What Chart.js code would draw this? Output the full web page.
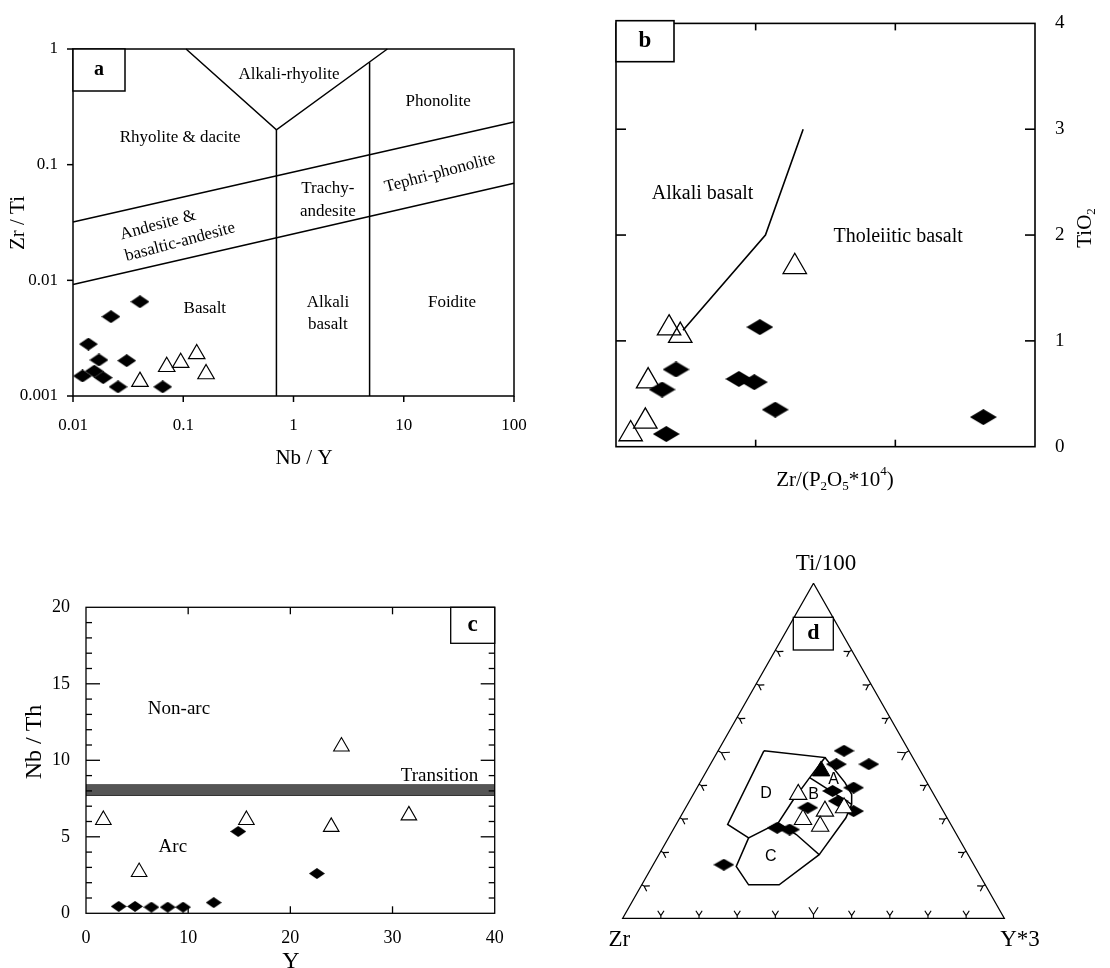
<!DOCTYPE html>
<html>
<head>
<meta charset="utf-8">
<title>Discrimination diagrams</title>
<script src="https://cdn.jsdelivr.net/npm/chart.js@4.4.1/dist/chart.umd.min.js"></script>
<style>
  html, body { margin: 0; padding: 0; background: #fff; }
  body { position: relative; width: 1110px; height: 968px; overflow: hidden; }
  canvas { position: absolute; }
</style>
</head>
<body>
<canvas id="chartA" width="560" height="480" style="left:0;top:0"></canvas>
<canvas id="chartB" width="530" height="510" style="left:580px;top:0"></canvas>
<canvas id="chartC" width="560" height="448" style="left:0;top:520px"></canvas>
<canvas id="chartD" width="530" height="438" style="left:580px;top:530px"></canvas>
<script>
// ---- panel a : Zr/Ti vs Nb/Y ----
const aNbYTicks = [0.01, 0.1, 1, 10, 100];
const aZrTiTicks = [0.001, 0.01, 0.1, 1];
const aDiamondNbY = [0.0122, 0.0138, 0.0172, 0.0156, 0.0188, 0.0221, 0.0307, 0.0405, 0.0256, 0.0651];
const aDiamondZrTi = [0.00149, 0.00281, 0.00205, 0.00164, 0.00144, 0.00485, 0.00202, 0.00653, 0.00120, 0.00120];
const aTriangleNbY = [0.0405, 0.0708, 0.0948, 0.1325, 0.161];
const aTriangleZrTi = [0.00133, 0.00179, 0.00194, 0.00231, 0.00155];
// field boundaries
const aVNbY = [0.106, 0.7, 7.1];
const aVZrTi = [1, 0.2, 1];
const aLeftWallNbY = [0.7, 0.7];
const aLeftWallZrTi = [0.2, 0.001];
const aRightWallNbY = [4.9, 4.9];
const aRightWallZrTi = [0.77, 0.001];
const aUpperNbY = [0.01, 100];
const aUpperZrTi = [0.032, 0.234];
const aLowerNbY = [0.01, 100];
const aLowerZrTi = [0.0092, 0.069];
const aFieldNames = ['Alkali-rhyolite', 'Phonolite', 'Rhyolite & dacite', 'Tephri-phonolite', 'Trachy-', 'andesite',
  'Andesite &', 'basaltic-andesite', 'Basalt', 'Alkali', 'basalt', 'Foidite'];
const aFieldNbY = [0.91, 20.5, 0.0936, 21.3, 2.05, 2.05, 0.059, 0.0936, 0.157, 2.05, 2.05, 27.4];
const aFieldZrTi = [0.596, 0.348, 0.173, 0.0848, 0.0628, 0.0397, 0.0301, 0.0214, 0.00565, 0.00637, 0.00411, 0.00637];
const aFieldTilt = [0, 0, 0, -15, 0, 0, -15, -15, 0, 0, 0, 0];

// ---- panel b : TiO2 vs Zr/(P2O5*10^4) ----
const bDiamondZrP = [1.03, 0.43, 0.33, 0.88, 0.99, 1.14, 0.36, 2.63];
const bDiamondTiO2 = [1.13, 0.73, 0.54, 0.64, 0.61, 0.35, 0.12, 0.28];
const bTriangleZrP = [1.28, 0.38, 0.46, 0.23, 0.21, 0.105];
const bTriangleTiO2 = [1.70, 1.12, 1.05, 0.62, 0.24, 0.12];
const bDivideZrP = [0.48, 1.07, 1.34];
const bDivideTiO2 = [1.1, 2, 3];
const bFieldNames = ['Alkali basalt', 'Tholeiitic basalt'];
const bFieldZrP = [0.62, 2.02];
const bFieldTiO2 = [2.39, 1.98];

// ---- panel c : Nb/Th vs Y ----
const cDiamondY = [3.2, 4.8, 6.4, 8.0, 9.5, 12.5, 14.9, 22.6];
const cDiamondNbTh = [0.45, 0.45, 0.4, 0.4, 0.4, 0.7, 5.35, 2.6];
const cTriangleY = [1.7, 5.2, 15.7, 24.0, 25.0, 31.6];
const cTriangleNbTh = [6.1, 2.7, 6.1, 5.65, 10.9, 6.4];
const cTransitionNbTh = [7.7, 8.4];
const cFieldNames = ['Non-arc', 'Transition', 'Arc'];
const cFieldY = [9.1, 34.6, 8.5];
const cFieldNbTh = [13.35, 8.97, 4.35];

// ---- panel d : Ti/100 - Zr - Y*3 ternary (percent) ----
const dDiamondTi = [50, 46, 46, 39, 38, 35, 33, 32, 27, 26.5, 16];
const dDiamondZr = [17, 21, 12.5, 20, 26, 26, 35, 23.5, 46, 43, 65.5];
const dDiamondY = [33, 33, 41.5, 41, 36, 39, 32, 44.5, 27, 30.5, 18.5];
const dSolidTriTi = [44];
const dSolidTriZr = [26];
const dSolidTriY = [30];
const dTriangleTi = [37, 32, 33, 29.5, 27.5];
const dTriangleZr = [35.5, 31, 25.5, 38, 34.5];
const dTriangleY = [27.5, 37, 41.5, 32.5, 38];
const dFrameTi = [100, 0, 0, 100];
const dFrameZr = [0, 100, 0, 0];
const dFrameY = [0, 0, 100, 0];
const dFieldDTi = [50, 48, 42, 35, 28.5, 24, 28, 50];
const dFieldDZr = [38, 23, 30, 38, 45, 55, 58.5, 38];
const dFieldDY = [12, 29, 28, 27, 26.5, 21, 13.5, 12];
const dFieldCTi = [24, 15.5, 10, 10, 19, 25, 28.5];
const dFieldCZr = [55, 62.5, 62, 54, 39, 42, 45];
const dFieldCY = [21, 22, 28, 36, 42, 33, 26.5];
const dOuterTi = [19, 30, 34, 37, 40.5, 48];
const dOuterZr = [39, 26.5, 23, 21.5, 21.5, 23];
const dOuterY = [42, 43.5, 43, 41.5, 38, 29];
const dSplitTi = [42, 34];
const dSplitZr = [30, 23];
const dSplitY = [28, 43];
const dFieldNames = ['A', 'B', 'C', 'D'];
const dFieldTi = [41.3, 36.8, 18.4, 37.3];
const dFieldZr = [24.1, 31.6, 52, 43.8];
const dFieldY = [34.6, 31.6, 29.6, 18.9];

const SERIF = "'Liberation Serif', 'Times New Roman', serif";
const SANS = "'Liberation Sans', Arial, sans-serif";

function pts(xs, ys) {
  return xs.map((x, i) => ({ x: x, y: ys[i] }));
}

// ternary percent -> cartesian (fraction of triangle width / height)
function tern(ti, zr, y) {
  return ti.map((t, i) => {
    const s = t + zr[i] + y[i];
    return { x: (y[i] + t / 2) / s, y: t / s };
  });
}

function diamondStyle(w, h) {
  const c = document.createElement('canvas');
  c.width = w;
  c.height = h;
  const g = c.getContext('2d');
  g.fillStyle = '#000';
  g.beginPath();
  g.moveTo(w / 2, 0);
  g.lineTo(w, h / 2);
  g.lineTo(w / 2, h);
  g.lineTo(0, h / 2);
  g.closePath();
  g.fill();
  return c;
}

function lineSet(data, width) {
  return { data: data, showLine: true, pointRadius: 0, borderColor: '#000', borderWidth: width || 1.5,
    fill: false, tension: 0, clip: false };
}

function fontFor(p, size) {
  const s = (p.sub || p.sup) ? Math.round(size * 0.62) : size;
  return (p.bold ? 'bold ' : '') + s + 'px ' + (p.sans ? SANS : SERIF);
}

function drawRich(ctx, parts, x, y, size, rot) {
  ctx.save();
  ctx.translate(x, y);
  ctx.rotate(rot * Math.PI / 180);
  ctx.textBaseline = 'middle';
  ctx.textAlign = 'left';
  const widths = parts.map(p => { ctx.font = fontFor(p, size); return ctx.measureText(p.t).width; });
  let cx = -widths.reduce((s, w) => s + w, 0) / 2;
  parts.forEach((p, i) => {
    ctx.font = fontFor(p, size);
    const dy = p.sub ? size * 0.3 : (p.sup ? -size * 0.38 : 0);
    ctx.fillText(p.t, cx, dy);
    cx += widths[i];
  });
  ctx.restore();
}

function range(from, to, step, skip) {
  const out = [];
  for (let v = from; v <= to + 1e-9; v += step) {
    if (!skip || Math.round(v) % skip !== 0) out.push(v);
  }
  return out;
}

const sketchPlugin = {
  id: 'sketch',
  afterDatasetsDraw(chart, args, opts) {
    const ctx = chart.ctx;
    const area = chart.chartArea;
    ctx.save();
    ctx.strokeStyle = '#000';
    ctx.fillStyle = '#000';
    ctx.lineWidth = opts.lineWidth || 1.4;
    (opts.ticks || []).forEach(spec => {
      const scale = chart.scales[spec.axis];
      spec.values.forEach(v => {
        const p = scale.getPixelForValue(v);
        spec.sides.forEach(side => {
          const d = spec.inward ? spec.len : -spec.len;
          ctx.beginPath();
          if (side === 'bottom') { ctx.moveTo(p, area.bottom); ctx.lineTo(p, area.bottom - d); }
          if (side === 'top') { ctx.moveTo(p, area.top); ctx.lineTo(p, area.top + d); }
          if (side === 'left') { ctx.moveTo(area.left, p); ctx.lineTo(area.left + d, p); }
          if (side === 'right') { ctx.moveTo(area.right, p); ctx.lineTo(area.right - d, p); }
          ctx.stroke();
        });
      });
    });
    if (opts.ternary) {
      const sx = chart.scales.x, sy = chart.scales.y;
      const sides = [
        { at: f => ({ x: f, y: 0 }), n: [0, -1] },
        { at: f => ({ x: f / 2, y: f }), n: [0.866, 0.5] },
        { at: f => ({ x: 1 - f / 2, y: f }), n: [-0.866, 0.5] }
      ];
      ctx.lineWidth = 1.15;
      sides.forEach(side => {
        const t = [-side.n[1], side.n[0]];
        range(0.1, 0.9, 0.1).forEach(f => {
          const q = side.at(f);
          const px = sx.getPixelForValue(q.x), py = sy.getPixelForValue(q.y);
          const L = Math.abs(f - 0.5) < 0.01 ? 11 : 7.5;
          const vx = px + side.n[0] * L * 0.35, vy = py + side.n[1] * L * 0.35;
          const ex = px + side.n[0] * L, ey = py + side.n[1] * L;
          ctx.beginPath();
          ctx.moveTo(px, py); ctx.lineTo(vx, vy);
          ctx.moveTo(ex + t[0] * L * 0.42, ey + t[1] * L * 0.42); ctx.lineTo(vx, vy);
          ctx.lineTo(ex - t[0] * L * 0.42, ey - t[1] * L * 0.42);
          ctx.stroke();
        });
      });
      ctx.lineWidth = opts.lineWidth || 1.4;
    }
    if (opts.frame) ctx.strokeRect(area.left, area.top, area.right - area.left, area.bottom - area.top);
    if (opts.tag) {
      const t = opts.tag;
      ctx.fillStyle = '#fff';
      ctx.fillRect(t.x, t.y, t.w, t.h);
      ctx.strokeRect(t.x, t.y, t.w, t.h);
      ctx.fillStyle = '#000';
      drawRich(ctx, [{ t: t.text, bold: true }], t.x + t.w / 2, t.y + t.h / 2, t.size, 0);
    }
    (opts.labels || []).forEach(l => {
      const x = chart.scales.x.getPixelForValue(l.x);
      const y = chart.scales.y.getPixelForValue(l.y);
      drawRich(ctx, [{ t: l.text, sans: l.sans }], x, y, l.size, l.rot || 0);
    });
    (opts.titles || []).forEach(tt => drawRich(ctx, tt.parts, tt.x, tt.y, tt.size, tt.rot || 0));
    ctx.restore();
  }
};

const quiet = { legend: { display: false }, tooltip: { enabled: false } };
const hiddenGrid = { display: false };
const noBorder = { display: false };

// ---------- a ----------
new Chart(document.getElementById('chartA'), {
  type: 'scatter',
  data: {
    datasets: [
      { data: pts(aTriangleNbY, aTriangleZrTi), pointStyle: 'triangle', pointRadius: 9.5, borderWidth: 1.2,
        borderColor: '#000', backgroundColor: 'rgba(255,255,255,0)' },
      { data: pts(aDiamondNbY, aDiamondZrTi), pointStyle: diamondStyle(19, 13), pointRadius: 9 },
      lineSet(pts(aVNbY, aVZrTi)),
      lineSet(pts(aLeftWallNbY, aLeftWallZrTi)),
      lineSet(pts(aRightWallNbY, aRightWallZrTi)),
      lineSet(pts(aUpperNbY, aUpperZrTi)),
      lineSet(pts(aLowerNbY, aLowerZrTi))
    ]
  },
  options: {
    responsive: false, animation: false, events: [],
    layout: { padding: { left: 0, top: 49, right: 46, bottom: 0 } },
    plugins: Object.assign({}, quiet, {
      sketch: {
        frame: true, lineWidth: 1.5,
        ticks: [
          { axis: 'x', values: aNbYTicks, sides: ['bottom'], len: 6, inward: false },
          { axis: 'y', values: aZrTiTicks, sides: ['left'], len: 6, inward: false }
        ],
        tag: { x: 73, y: 49, w: 52, h: 42, text: 'a', size: 20 },
        labels: aFieldNames.map((n, i) => ({ text: n, x: aFieldNbY[i], y: aFieldZrTi[i], size: 17, rot: aFieldTilt[i] })),
        titles: [
          { parts: [{ t: 'Nb / Y' }], x: 304, y: 458, size: 21 },
          { parts: [{ t: 'Zr / Ti' }], x: 18, y: 223, size: 21, rot: -90 }
        ]
      }
    }),
    scales: {
      x: {
        type: 'logarithmic', min: 0.01, max: 100,
        grid: hiddenGrid, border: noBorder,
        afterBuildTicks: s => { s.ticks = aNbYTicks.map(v => ({ value: v })); },
        afterFit: s => { s.height = 84; },
        ticks: { autoSkip: false, maxRotation: 0, padding: 11, color: '#000',
          font: { family: SERIF, size: 17 }, callback: v => String(v) }
      },
      y: {
        type: 'logarithmic', min: 0.001, max: 1,
        grid: hiddenGrid, border: noBorder,
        afterBuildTicks: s => { s.ticks = aZrTiTicks.map(v => ({ value: v })); },
        afterFit: s => { s.width = 73; },
        ticks: { autoSkip: false, padding: 7, color: '#000',
          font: { family: SERIF, size: 17 }, callback: v => String(v) }
      }
    }
  },
  plugins: [sketchPlugin]
});

// ---------- b ----------
new Chart(document.getElementById('chartB'), {
  type: 'scatter',
  data: {
    datasets: [
      { data: pts(bTriangleZrP, bTriangleTiO2), pointStyle: 'triangle', pointRadius: 13.5, borderWidth: 1.3,
        borderColor: '#000', backgroundColor: 'rgba(255,255,255,0)' },
      { data: pts(bDiamondZrP, bDiamondTiO2), pointStyle: diamondStyle(27, 16), pointRadius: 13 },
      lineSet(pts(bDivideZrP, bDivideTiO2), 1.6)
    ]
  },
  options: {
    responsive: false, animation: false, events: [],
    layout: { padding: { left: 36, top: 20.7, right: 0, bottom: 0 } },
    plugins: Object.assign({}, quiet, {
      sketch: {
        frame: true, lineWidth: 1.6,
        ticks: [
          { axis: 'x', values: [1, 2], sides: ['bottom', 'top'], len: 7, inward: true },
          { axis: 'y', values: [1, 2, 3], sides: ['left', 'right'], len: 10, inward: true }
        ],
        tag: { x: 36, y: 20.7, w: 58, h: 41, text: 'b', size: 23 },
        labels: bFieldNames.map((n, i) => ({ text: n, x: bFieldZrP[i], y: bFieldTiO2[i], size: 20 })),
        titles: [
          { parts: [{ t: 'Zr/(P' }, { t: '2', sub: true }, { t: 'O' }, { t: '5', sub: true }, { t: '*10' },
            { t: '4', sup: true }, { t: ')' }], x: 255, y: 480, size: 21 },
          { parts: [{ t: 'TiO' }, { t: '2', sub: true }], x: 505, y: 228, size: 21, rot: -90 }
        ]
      }
    }),
    scales: {
      x: {
        type: 'linear', min: 0, max: 3,
        grid: hiddenGrid, border: noBorder,
        afterFit: s => { s.height = 63.3; },
        ticks: { display: false }
      },
      y: {
        type: 'linear', position: 'right', min: 0, max: 4,
        grid: hiddenGrid, border: noBorder,
        afterFit: s => { s.width = 75; },
        ticks: { stepSize: 1, padding: 12, color: '#000', font: { family: SERIF, size: 19 } }
      }
    }
  },
  plugins: [sketchPlugin]
});

// ---------- c ----------
new Chart(document.getElementById('chartC'), {
  type: 'scatter',
  data: {
    datasets: [
      { data: pts(cTriangleY, cTriangleNbTh), pointStyle: 'triangle', pointRadius: 9, borderWidth: 1.1,
        borderColor: '#000', backgroundColor: 'rgba(255,255,255,0)' },
      { data: pts(cDiamondY, cDiamondNbTh), pointStyle: diamondStyle(16, 11), pointRadius: 8 },
      { type: 'line', data: pts([0, 40], [cTransitionNbTh[0], cTransitionNbTh[0]]), pointRadius: 0,
        borderColor: '#333', borderWidth: 1, backgroundColor: '#555',
        fill: { value: cTransitionNbTh[1] }, tension: 0 },
      { type: 'line', data: pts([0, 40], [cTransitionNbTh[1], cTransitionNbTh[1]]), pointRadius: 0,
        borderColor: '#333', borderWidth: 1, fill: false, tension: 0 }
    ]
  },
  options: {
    responsive: false, animation: false, events: [],
    layout: { padding: { left: 0, top: 87.3, right: 65.3, bottom: 0 } },
    plugins: Object.assign({}, quiet, {
      sketch: {
        frame: true, lineWidth: 1.3,
        ticks: [
          { axis: 'x', values: [10, 20, 30], sides: ['bottom', 'top'], len: 7, inward: true },
          { axis: 'y', values: range(1, 19, 1, 5), sides: ['left', 'right'], len: 6, inward: true },
          { axis: 'y', values: [5, 10, 15], sides: ['left', 'right'], len: 14, inward: true }
        ],
        tag: { x: 450.7, y: 87.3, w: 44, h: 36, text: 'c', size: 23 },
        labels: cFieldNames.map((n, i) => ({ text: n, x: cFieldY[i], y: cFieldNbTh[i], size: 19 })),
        titles: [
          { parts: [{ t: 'Y' }], x: 291, y: 442, size: 24 },
          { parts: [{ t: 'Nb / Th' }], x: 35, y: 222, size: 24, rot: -90 }
        ]
      }
    }),
    scales: {
      x: {
        type: 'linear', min: 0, max: 40,
        grid: hiddenGrid, border: noBorder,
        afterFit: s => { s.height = 54.7; },
        ticks: { stepSize: 10, padding: 6, maxRotation: 0, color: '#000', font: { family: SERIF, size: 18 } }
      },
      y: {
        type: 'linear', min: 0, max: 20,
        grid: hiddenGrid, border: noBorder,
        afterFit: s => { s.width = 86; },
        ticks: { stepSize: 5, padding: 8, color: '#000', font: { family: SERIF, size: 18 } }
      }
    }
  },
  plugins: [sketchPlugin]
});

// ---------- d ----------
new Chart(document.getElementById('chartD'), {
  type: 'scatter',
  data: {
    datasets: [
      { data: tern(dTriangleTi, dTriangleZr, dTriangleY), pointStyle: 'triangle', pointRadius: 10, borderWidth: 1.1,
        borderColor: '#000', backgroundColor: '#fff', clip: false },
      { data: tern(dDiamondTi, dDiamondZr, dDiamondY), pointStyle: diamondStyle(21, 12), pointRadius: 10, clip: false },
      { data: tern(dSolidTriTi, dSolidTriZr, dSolidTriY), pointStyle: 'triangle', pointRadius: 10, borderWidth: 1,
        borderColor: '#000', backgroundColor: '#000', clip: false },
      lineSet(tern(dFrameTi, dFrameZr, dFrameY), 1.3),
      lineSet(tern(dFieldDTi, dFieldDZr, dFieldDY), 1.5),
      lineSet(tern(dFieldCTi, dFieldCZr, dFieldCY), 1.5),
      lineSet(tern(dOuterTi, dOuterZr, dOuterY), 1.5),
      lineSet(tern(dSplitTi, dSplitZr, dSplitY), 1.5)
    ]
  },
  options: {
    responsive: false, animation: false, events: [],
    layout: { padding: { left: 42.7, top: 53.3, right: 105.7, bottom: 49.7 } },
    plugins: Object.assign({}, quiet, {
      sketch: {
        ternary: true, lineWidth: 1.3,
        tag: { x: 213.3, y: 87.3, w: 40, h: 32.7, text: 'd', size: 22 },
        labels: tern(dFieldTi, dFieldZr, dFieldY).map((p, i) => ({ text: dFieldNames[i], x: p.x, y: p.y, size: 16, sans: true })),
        titles: [
          { parts: [{ t: 'Ti/100' }], x: 246, y: 34, size: 23 },
          { parts: [{ t: 'Zr' }], x: 39.3, y: 410, size: 23 },
          { parts: [{ t: 'Y*3' }], x: 440, y: 410, size: 23 }
        ]
      }
    }),
    scales: {
      x: { type: 'linear', min: 0, max: 1, display: false },
      y: { type: 'linear', min: 0, max: 1, display: false }
    }
  },
  plugins: [sketchPlugin]
});
</script>
</body>
</html>
